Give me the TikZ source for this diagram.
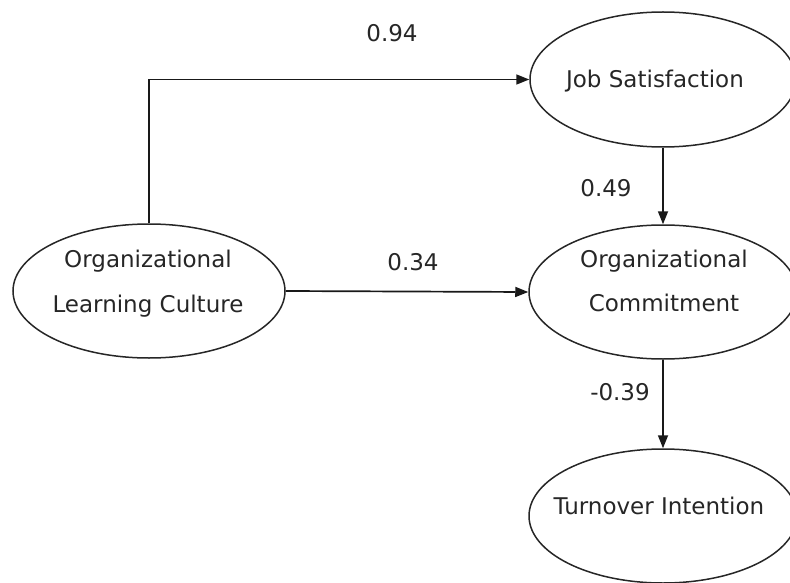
\documentclass[tikz,border=0pt]{standalone}
\usepackage{fontspec}
\setmainfont{DejaVu Sans}
\usetikzlibrary{shapes.geometric,arrows.meta}
\begin{document}
\begin{tikzpicture}[x=1pt,y=-1pt,
  construct/.style={draw=black!85,line width=1.5pt,ellipse,inner sep=0pt},
  lbl/.style={font=\fontsize{23}{27}\selectfont,text=black!85,inner sep=0pt},
  path/.style={draw=black!90,line width=1.7pt,-{Triangle[length=13pt,width=10pt]}}]
\useasboundingbox (0,0) rectangle (790,583);
\node[construct,minimum width=272pt,minimum height=134pt] (olc) at (149,291) {};
\node[construct,minimum width=266pt,minimum height=135pt] (js) at (663,79.5) {};
\node[construct,minimum width=268pt,minimum height=134pt] (oc) at (663,292) {};
\node[construct,minimum width=268pt,minimum height=134pt] (ti) at (663,516) {};
\node[lbl,anchor=base] (olc1) at (148,267) {Organizational};
\node[lbl,anchor=base] (olc2) at (148,312) {Learning Culture};
\node[lbl,anchor=base] (jst) at (655,88) {Job Satisfaction};
\node[lbl,anchor=base] (oc1) at (664,267) {Organizational};
\node[lbl,anchor=base] (oc2) at (664,311) {Commitment};
\node[lbl,anchor=base] (tit) at (659,514) {Turnover Intention};
\coordinate (corner) at (olc.north |- js.west);
\draw[path] (olc.north) -- (corner) -- (js.west);
\draw[path] (olc.east) -- (oc.west);
\draw[path] (js.south) -- (oc.north);
\draw[path] (oc.south) -- (ti.north);
\node[lbl] (l94) at (392,33) {0.94};
\node[lbl] (l34) at (413,262) {0.34};
\node[lbl] (l49) at (606,188) {0.49};
\node[lbl] (l39) at (620,392) {-0.39};
\end{tikzpicture}
\end{document}
